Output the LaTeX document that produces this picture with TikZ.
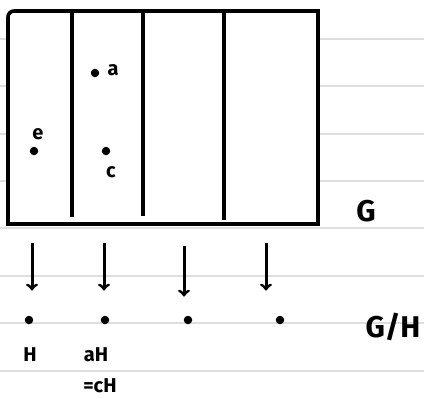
\documentclass[tikz,border=0pt]{standalone}
\usepackage{fontspec}
\setmainfont{Fira Sans}
\usetikzlibrary{positioning}

\tikzset{
  dot/.style={circle,fill=black,inner sep=0pt,minimum size=8.5pt},
  lbl/.style={inner sep=0pt,font=\fontsize{20}{20}\selectfont\bfseries},
  biglbl/.style={inner sep=0pt,font=\fontsize{30}{30}\selectfont\bfseries},
}

\begin{document}
\begin{tikzpicture}[x=1pt,y=-1pt]
            \useasboundingbox (0,0) rectangle (424,399);
            % ruled paper
            \foreach \y in {39,86,134,181,228,276,323,371}
                \draw[black!13,line width=1.4pt] (0,\y)--(424,\y);
            % the group G, cut into cosets
            \filldraw[fill=white,line width=3.6pt] (318,224) -- (8,224)
                [rounded corners=6pt] -- (8,11) [sharp corners] -- (318,11) -- cycle;
            \draw[line width=3.2pt] (72,11)--(72,217);
            \draw[line width=3.2pt] (143,11)--(143,216);
            \draw[line width=3.2pt] (224,11)--(224,220);
            \node[dot] (e) at (34,151) {};
            \node[lbl,above=7pt of e,xshift=4pt] (elbl) {e};
            \node[dot] (a) at (95,73) {};
            \node[lbl,right=8pt of a,yshift=3pt] (albl) {a};
            \node[dot] (c) at (106,151) {};
            \node[lbl,below=11pt of c,xshift=5pt] (clbl) {c};
            \node[biglbl] (G) at (366,211) {G};
            % the quotient G/H
            \node[dot] (H) at (29,320) {};
            \node[dot] (aH) at (105,320) {};
            \node[dot] (bH) at (188,320) {};
            \node[dot] (dH) at (280,320) {};
            \node[lbl] (Hlbl) at (30,355) {H};
            \node[lbl] (aHlbl) at (96,355) {aH};
            \node[lbl] (cHlbl) at (100,386) {=cH};
            \node[biglbl] (GH) at (393,327) {G/H};
            % projection arrows
            \coordinate (t1) at (32,243);
            \coordinate (t2) at (104,243);
            \coordinate (t3) at (184,246);
            \coordinate (t4) at (266,243);
            \draw[->,line width=3pt,shorten >=25pt] (t1)--(t1 |- H.north);
            \draw[->,line width=3pt,shorten >=25pt] (t2)--(t2 |- aH.north);
            \draw[->,line width=3pt,shorten >=19pt] (t3)--(t3 |- bH.north);
            \draw[->,line width=3pt,shorten >=25pt] (t4)--(t4 |- dH.north);
        \end{tikzpicture}
\end{document}
